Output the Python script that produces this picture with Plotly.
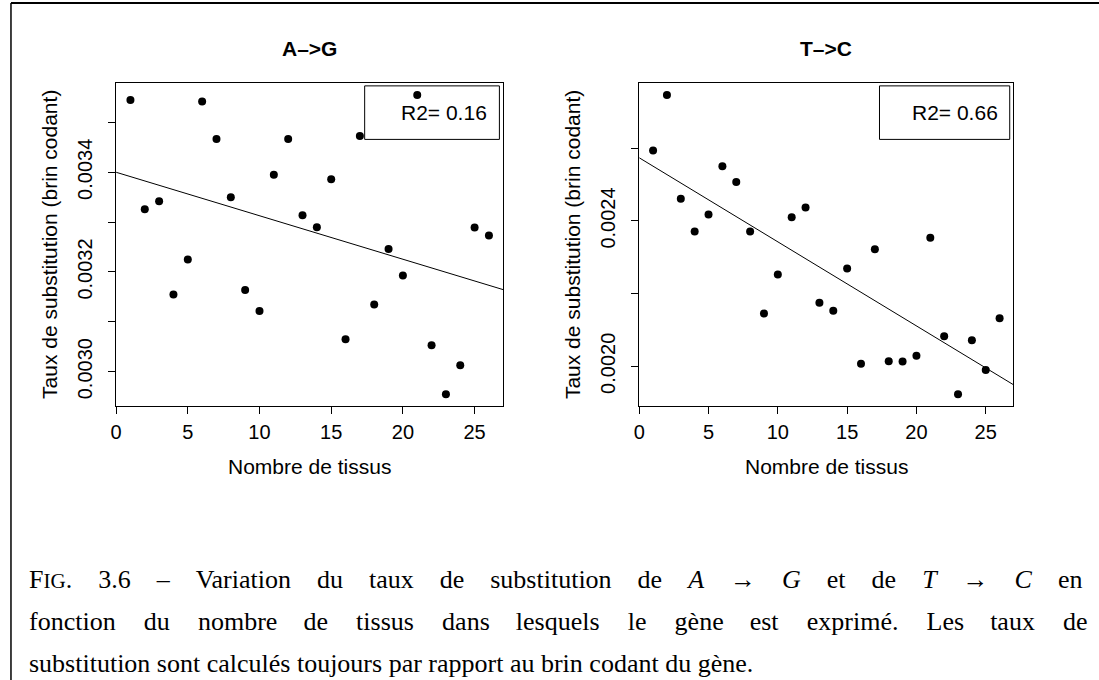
"""Two scatter panels (A->G, T->C) with linear fits and a LaTeX-like caption."""

import numpy as np
import plotly.graph_objects as go

FONT = "Liberation Sans, Arial, sans-serif"
SERIF = "Liberation Serif, Times New Roman, serif"
INK = "#000000"

# --- data -----------------------------------------------------------------
tissus = list(range(1, 27))

taux_ag = [
    0.003545, 0.003326, 0.003342, 0.003155, 0.003225, 0.003542, 0.003467,
    0.003350, 0.003164, 0.003122, 0.003395, 0.003467, 0.003314, 0.003290,
    0.003386, 0.003065, 0.003473, 0.003135, 0.003246, 0.003193, 0.003555,
    0.003053, 0.002955, 0.003013, 0.003289, 0.003273,
]
taux_tc = [
    0.002594, 0.002747, 0.002461, 0.002371, 0.002418, 0.002551, 0.002507,
    0.002371, 0.002145, 0.002253, 0.002410, 0.002437, 0.002175, 0.002153,
    0.002269, 0.002007, 0.002322, 0.002014, 0.002013, 0.002029, 0.002354,
    0.002083, 0.001923, 0.002072, 0.001990, 0.002132,
]

panel_titles = ["A–>G", "T–>C"]
r2_labels = ["R2= 0.16", "R2= 0.66"]

x_range = [0, 27]
x_ticks = [0, 5, 10, 15, 20, 25]

y_range_ag = [0.0029318, 0.0035785]
y_ticks_ag = [0.0030, 0.0031, 0.0032, 0.0033, 0.0034, 0.0035]
y_text_ag = ["0.0030", "", "0.0032", "", "0.0034", ""]

y_range_tc = [0.0018915, 0.002779]
y_ticks_tc = [0.0020, 0.0022, 0.0024, 0.0026]
y_text_tc = ["0.0020", "", "0.0024", ""]

# caption words; the first two lines are justified (wide gaps), the last is not
caption_words = [
    ["F<span style='font-size:21px'>IG</span>.", "3.6", "–", "Variation", "du",
     "taux", "de", "substitution", "de", "<i>A</i>", "→", "<i>G</i>", "et",
     "de", "<i>T</i>", "→", "<i>C</i>", "en"],
    ["fonction", "du", "nombre", "de", "tissus", "dans", "lesquels", "le",
     "gène", "est", "exprimé.", "Les", "taux", "de"],
    ["substitution", "sont", "calculés", "toujours", "par", "rapport", "au",
     "brin", "codant", "du", "gène."],
]
caption_justify = ["em", "em+", "none"]

W, H = 1099, 680


def px_x(v):
    return v / W


def px_y(v):
    return 1 - v / H


def join_words(words, mode):
    # crude justification with wide unicode spaces
    if mode == "none":
        return " ".join(words)
    out = words[0]
    for k, w in enumerate(words[1:]):
        gap = "\u2003"
        if mode == "em+" and k % 3 != 2:
            gap += "\u200a"
        out += gap + w
    return out


panels = [
    dict(y=taux_ag, yr=y_range_ag, yt=y_ticks_ag, ytxt=y_text_ag,
         dom=(110.7, 500.0), xa="x", ya="y"),
    dict(y=taux_tc, yr=y_range_tc, yt=y_ticks_tc, ytxt=y_text_tc,
         dom=(636.7, 1013.0), xa="x2", ya="y2"),
]

fig = go.Figure()
annotations = []
shapes = []

for i, p in enumerate(panels):
    fig.add_trace(go.Scatter(
        x=tissus, y=p["y"], mode="markers", xaxis=p["xa"], yaxis=p["ya"],
        marker=dict(color=INK, size=8), showlegend=False, hoverinfo="x+y",
    ))
    slope, intercept = np.polyfit(tissus, p["y"], 1)
    fit_x = np.array(x_range, dtype=float)
    fig.add_trace(go.Scatter(
        x=fit_x, y=intercept + slope * fit_x, mode="lines",
        xaxis=p["xa"], yaxis=p["ya"], line=dict(color=INK, width=1),
        showlegend=False, hoverinfo="skip",
    ))

    sfx = "" if i == 0 else "2"
    axis_common = dict(
        showline=True, linecolor=INK, linewidth=1, mirror=True,
        ticks="outside", ticklen=7, tickcolor=INK, tickwidth=1,
        showgrid=False, zeroline=False,
        tickfont=dict(family=FONT, size=20, color=INK),
    )
    x0, x1 = p["dom"]
    fig.update_layout({
        f"xaxis{sfx}": dict(
            axis_common, domain=[px_x(x0), px_x(x1)], range=x_range,
            tickvals=x_ticks, anchor=p["ya"], ticklabelstandoff=1,
        ),
        f"yaxis{sfx}": dict(
            axis_common, domain=[px_y(405.7), px_y(83.3)], range=p["yr"],
            tickvals=p["yt"], ticktext=p["ytxt"], tickangle=-90,
            anchor=p["xa"], ticklabelstandoff=8,
        ),
    })

    cx = (x0 + x1) / 2
    annotations += [
        dict(text=f"<b>{panel_titles[i]}</b>", x=px_x(cx), y=px_y(49),
             xref="paper", yref="paper", showarrow=False,
             xanchor="center", yanchor="middle",
             font=dict(family=FONT, size=21, color=INK)),
        dict(text="Nombre de tissus", x=px_x(cx), y=px_y(466),
             xref="paper", yref="paper", showarrow=False,
             xanchor="center", yanchor="middle",
             font=dict(family=FONT, size=21, color=INK)),
        dict(text="Taux de substitution (brin codant)", x=px_x(x0 - 67),
             y=px_y(244.5), xref="paper", yref="paper", showarrow=False,
             textangle=-90, xanchor="center", yanchor="middle",
             font=dict(family=FONT, size=21, color=INK)),
        dict(text=r2_labels[i], x=0.964, y=0.908,
             xref=f"{p['xa']} domain", yref=f"{p['ya']} domain",
             showarrow=False, xanchor="right", yanchor="middle",
             font=dict(family=FONT, size=21, color=INK)),
    ]
    shapes.append(dict(
        type="rect", xref=f"{p['xa']} domain", yref=f"{p['ya']} domain",
        x0=0.642, x1=0.99, y0=0.826, y1=0.992,
        line=dict(color=INK, width=1), fillcolor="rgba(0,0,0,0)",
    ))

for words, mode, mid in zip(caption_words, caption_justify, [579, 621, 663]):
    annotations.append(dict(
        text=join_words(words, mode), x=px_x(21), y=px_y(mid),
        xref="paper", yref="paper",
        showarrow=False, xanchor="left", yanchor="middle",
        font=dict(family=SERIF, size=26, color=INK),
    ))

# outer frame: top and left edges only
shapes += [
    dict(type="line", xref="paper", yref="paper", x0=px_x(5), x1=px_x(1099),
         y0=px_y(3), y1=px_y(3), line=dict(color=INK, width=2), layer="above"),
    dict(type="line", xref="paper", yref="paper", x0=px_x(5), x1=px_x(5),
         y0=px_y(3), y1=px_y(680), line=dict(color=INK, width=1.5),
         layer="above"),
]

fig.update_layout(
    width=W, height=H, margin=dict(l=0, r=0, t=0, b=0),
    paper_bgcolor="white", plot_bgcolor="white",
    annotations=annotations, shapes=shapes, showlegend=False,
)

fig.write_html(
    "out.html",
    config={"displayModeBar": False},
    post_script="document.body.style.margin='0';document.body.style.overflow='hidden';",
)
